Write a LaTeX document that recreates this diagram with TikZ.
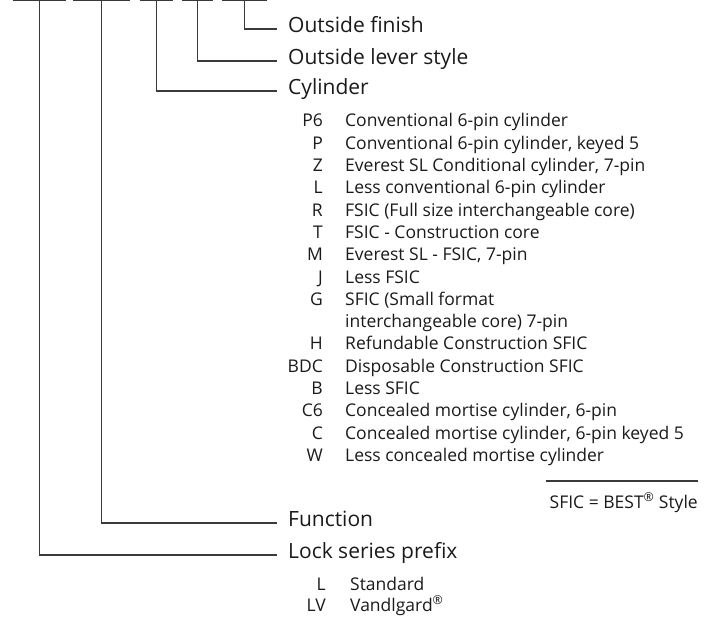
\documentclass[tikz,border=0pt]{standalone}
\usepackage{fontspec}
\setmainfont{Open Sans}
\usepackage{tikz}
\usetikzlibrary{positioning}
\definecolor{inkblack}{HTML}{1A1A1A}
\definecolor{leadergray}{HTML}{3A3A3A}
\newcommand{\listpitch}{22.3pt}

\begin{document}
\begin{tikzpicture}[
    x=1pt, y=1pt,
    slot/.style={inner sep=0pt, minimum height=0pt},
    title/.style={anchor=west, inner xsep=11pt, inner ysep=0pt, text height=0.72em, text depth=0pt, text=inkblack, font=\fontsize{21}{21}\selectfont},
    code/.style={anchor=base east, inner sep=0pt, text=inkblack, font=\fontsize{17.5}{17.5}\selectfont},
    desc/.style={anchor=base west, inner sep=0pt, text=inkblack, font=\fontsize{17.5}{17.5}\selectfont},
    leader/.style={draw=leadergray, line width=1.2pt}
]
\useasboundingbox (0,0) rectangle (707,-620);

% Model number slots
\node[slot, minimum width=53pt] (slot1) at (39.5,-0.6) {};
\node[slot, minimum width=57pt] (slot2) at (101.5,-0.6) {};
\node[slot, minimum width=33pt] (slot3) at (156.5,-0.6) {};
\node[slot, minimum width=31pt] (slot4) at (197.5,-0.6) {};
\node[slot, minimum width=45pt] (slot5) at (244.5,-0.6) {};

% Titles
\node[title] (finish) at (277,-29) {Outside finish};
\node[title] (lever) at (277,-61) {Outside lever style};
\node[title] (cyl) at (277,-91) {Cylinder};
\node[title] (func) at (277,-523) {Function};
\node[title] (prefix) at (277,-555) {Lock series prefix};

% Cylinder options
\node[code] (cd_p6) at (323,-127) {P6};
\node[code] (cd_p) at ([yshift=-\listpitch]cd_p6.base east) {P};
\node[code] (cd_z) at ([yshift=-\listpitch]cd_p.base east) {Z};
\node[code] (cd_l) at ([yshift=-\listpitch]cd_z.base east) {L};
\node[code] (cd_r) at ([yshift=-\listpitch]cd_l.base east) {R};
\node[code] (cd_t) at ([yshift=-\listpitch]cd_r.base east) {T};
\node[code] (cd_m) at ([yshift=-\listpitch]cd_t.base east) {M};
\node[code] (cd_j) at ([yshift=-\listpitch]cd_m.base east) {J};
\node[code] (cd_g) at ([yshift=-\listpitch]cd_j.base east) {G};
\node[code] (cd_h) at ([yshift=-2*\listpitch]cd_g.base east) {H};
\node[code] (cd_bdc) at ([yshift=-\listpitch]cd_h.base east) {BDC};
\node[code] (cd_b) at ([yshift=-\listpitch]cd_bdc.base east) {B};
\node[code] (cd_c6) at ([yshift=-\listpitch]cd_b.base east) {C6};
\node[code] (cd_c) at ([yshift=-\listpitch]cd_c6.base east) {C};
\node[code] (cd_w) at ([yshift=-\listpitch]cd_c.base east) {W};

\node[desc] (ds_p6) at ([xshift=22pt]cd_p6.base east) {Conventional 6-pin cylinder};
\node[desc] (ds_p) at ([xshift=22pt]cd_p.base east) {Conventional 6-pin cylinder, keyed 5};
\node[desc] (ds_z) at ([xshift=22pt]cd_z.base east) {Everest SL Conditional cylinder, 7-pin};
\node[desc] (ds_l) at ([xshift=22pt]cd_l.base east) {Less conventional 6-pin cylinder};
\node[desc] (ds_r) at ([xshift=22pt]cd_r.base east) {FSIC (Full size interchangeable core)};
\node[desc] (ds_t) at ([xshift=22pt]cd_t.base east) {FSIC - Construction core};
\node[desc] (ds_m) at ([xshift=22pt]cd_m.base east) {Everest SL - FSIC, 7-pin};
\node[desc] (ds_j) at ([xshift=22pt]cd_j.base east) {Less FSIC};
\node[desc] (ds_g) at ([xshift=22pt]cd_g.base east) {SFIC (Small format};
\node[desc] (ds_g2) at ([yshift=-\listpitch]ds_g.base west) {interchangeable core) 7-pin};
\node[desc] (ds_h) at ([xshift=22pt]cd_h.base east) {Refundable Construction SFIC};
\node[desc] (ds_bdc) at ([xshift=22pt]cd_bdc.base east) {Disposable Construction SFIC};
\node[desc] (ds_b) at ([xshift=22pt]cd_b.base east) {Less SFIC};
\node[desc] (ds_c6) at ([xshift=22pt]cd_c6.base east) {Concealed mortise cylinder, 6-pin};
\node[desc] (ds_c) at ([xshift=22pt]cd_c.base east) {Concealed mortise cylinder, 6-pin keyed 5};
\node[desc] (ds_w) at ([xshift=22pt]cd_w.base east) {Less concealed mortise cylinder};

% Footnote
\node[code] (note) at (698,-508) {SFIC = BEST\textsuperscript{®} Style};

% Lock series options
\node[code] (cd_std) at (326,-590) {L};
\node[code] (cd_vdl) at ([yshift=-21pt]cd_std.base east) {LV};
\node[desc] (ds_std) at ([xshift=24pt]cd_std.base east) {Standard};
\node[desc] (ds_vdl) at ([xshift=24pt]cd_vdl.base east) {Vandlgard\textsuperscript{®}};

% Connections
\draw[leader] (slot1.west) -- (slot1.east);
\draw[leader] (slot2.west) -- (slot2.east);
\draw[leader] (slot3.west) -- (slot3.east);
\draw[leader] (slot4.west) -- (slot4.east);
\draw[leader] (slot5.west) -- (slot5.east);
\draw[leader] (slot5.center) |- (finish.west);
\draw[leader] (slot4.center) |- (lever.west);
\draw[leader] (slot3.center) |- (cyl.west);
\draw[leader] (slot2.center) |- (func.west);
\draw[leader] (slot1.center) |- (prefix.west);
\draw[leader] ([xshift=-4pt, yshift=11.7pt]note.north west) -- ([yshift=11.7pt]note.north east);

\end{tikzpicture}
\end{document}
